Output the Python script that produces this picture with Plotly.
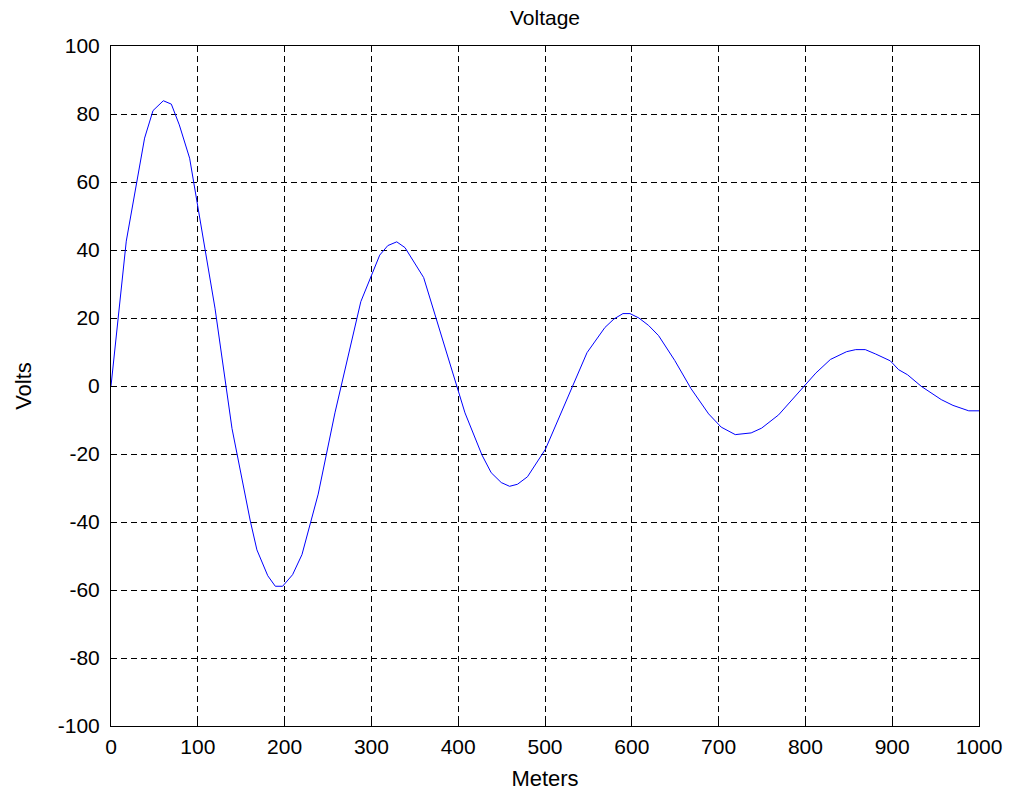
import plotly.graph_objects as go

meters = [0, 17.6, 38.7, 48.4, 60.3, 69.5, 78.7, 90.6, 119.8, 139.4,
          160.5, 168.1, 180.6, 189.3, 197.7, 209.2, 220, 238.7, 258, 287.8,
          309.6, 318.9, 329.2, 338.7, 360.2, 407.8, 427.4, 438, 449.6, 459.2,
          468.3, 479.8, 500.5, 548.4, 569, 579.4, 589.8, 597.9, 608.2, 619.4,
          630.9, 649.5, 668.3, 688.5, 703, 719.2, 737.5, 749.5, 769.1, 786.4,
          799.5, 812, 828.8, 847.5, 858, 869, 881, 897.8, 907.4, 917.7,
          933.5, 956.5, 970, 988.2, 1000]
volts = [0, 42.6, 72.9, 81, 83.9, 82.9, 76.8, 67, 22.9, -12.5,
         -39.7, -48.2, -55.8, -58.9, -58.9, -55.5, -49.6, -31.8, -7.9, 24.8,
         38.5, 41.3, 42.4, 40.7, 31.9, -7.9, -20.3, -25.5, -28.4, -29.5,
         -28.9, -26.7, -18.6, 9.8, 17.2, 19.7, 21.3, 21.3, 20.0, 17.8,
         14.8, 7.5, -0.8, -8.2, -12.1, -14.3, -13.8, -12.4, -8.5, -3.5,
         0.1, 3.8, 7.8, 10.1, 10.7, 10.7, 9.4, 7.4, 4.8, 3.3,
         -0.1, -4, -5.7, -7.3, -7.3]

x_ticks = list(range(0, 1001, 100))
y_ticks = list(range(-100, 101, 20))

FONT = "Liberation Sans, Arial, sans-serif"

fig = go.Figure()
fig.add_trace(go.Scatter(x=meters, y=volts, mode="lines",
                         line=dict(color="#0000ff", width=1), showlegend=False))

axis_common = dict(
    showline=True, linecolor="black", linewidth=1, mirror="ticks",
    ticks="inside", ticklen=5, tickcolor="black",
    showgrid=True, gridcolor="black", gridwidth=1, griddash="6px,4px",
    zeroline=False, automargin=False,
    tickfont=dict(family=FONT, size=21, color="black"),
)

fig.update_layout(
    width=1010, height=795,
    margin=dict(l=111, r=31, t=46, b=69),
    paper_bgcolor="white", plot_bgcolor="white",
    font=dict(family=FONT, color="black"),
    title=dict(text="Voltage", x=0.5, xref="paper", y=1 - 18 / 795,
               yref="container", yanchor="middle", xanchor="center",
               font=dict(family=FONT, size=21, color="black")),
    xaxis=dict(range=[0, 1000], tickvals=x_ticks, ticktext=[str(v) for v in x_ticks],
               ticklabelstandoff=2,
               title=dict(text="Meters", font=dict(family=FONT, size=22), standoff=13),
               **axis_common),
    yaxis=dict(range=[-100, 100], tickvals=y_ticks, ticktext=[str(v) for v in y_ticks],
               ticklabelstandoff=6,
               title=dict(text="Volts", font=dict(family=FONT, size=22), standoff=20),
               **axis_common),
)

fig.write_html("out.html")
